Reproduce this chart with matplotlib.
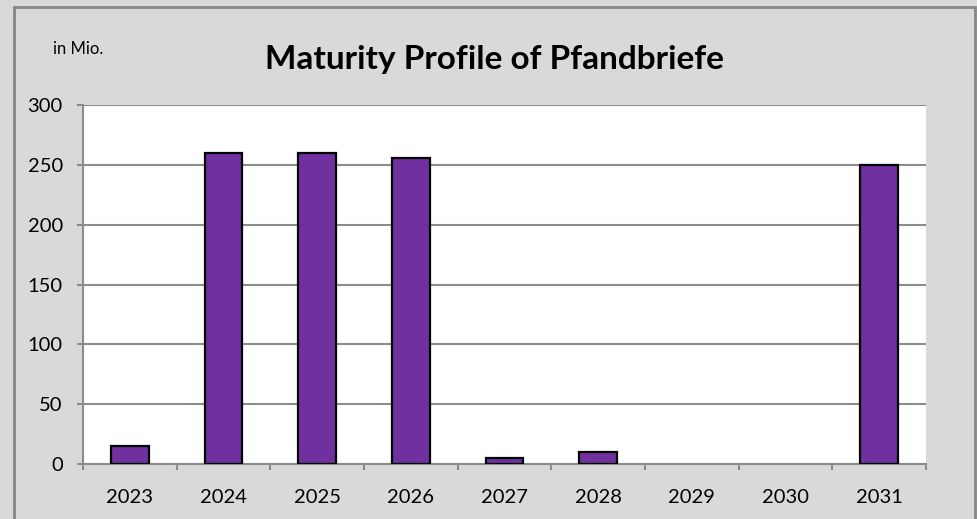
import matplotlib.pyplot as plt
from matplotlib.patches import Rectangle
import numpy as np

years = ['2023', '2024', '2025', '2026', '2027', '2028', '2029', '2030', '2031']
volumes = [15, 260, 260, 256, 5, 10, 0, 0, 250]

plt.rcParams['font.family'] = ['Lato', 'DejaVu Sans']

fig = plt.figure(figsize=(9.78, 5.19), dpi=100)
fig.patch.set_facecolor('#d9d9d9')
fig.patches.append(Rectangle((14 / 978, -0.1), (975 - 14) / 978, 1.1 - 7 / 519,
                             transform=fig.transFigure, fill=False,
                             edgecolor='#868686', linewidth=2))

ax = fig.add_axes([83 / 978, 1 - 464 / 519, (926 - 83) / 978, (464 - 105) / 519])
ax.set_facecolor('white')

x = np.arange(len(years))
# empty years show no bar outline
edges = ['black' if v > 0 else 'none' for v in volumes]
ax.bar(x, volumes, width=0.4, color='#7030a0', edgecolor=edges, linewidth=1.6, zorder=3)

ax.set_xlim(-0.5, len(years) - 0.5)
ax.set_ylim(0, 300)
ax.set_yticks(range(0, 301, 50))
ax.yaxis.grid(True, color='#8c8c8c', linewidth=1.5, zorder=0)

ax.set_xticks(x)
ax.set_xticklabels(years)
ax.set_xticks(np.arange(-0.5, len(years), 1), minor=True)
ax.tick_params(axis='x', which='major', length=0, pad=18, labelsize=14.5)
ax.tick_params(axis='x', which='minor', length=4.5, width=1.5, color='#8c8c8c')
ax.tick_params(axis='y', length=4.5, width=1.5, color='#8c8c8c', labelsize=14.5, pad=10)

for s in ['top', 'right']:
    ax.spines[s].set_visible(False)
for s in ['left', 'bottom']:
    ax.spines[s].set_color('#8c8c8c')
    ax.spines[s].set_linewidth(1.5)

fig.text(494 / 978, 1 - 59 / 519, 'Maturity Profile of Pfandbriefe', ha='center', va='center',
         fontsize=24, fontweight='bold')
fig.text(53 / 978, 1 - 49 / 519, 'in Mio.', ha='left', va='center', fontsize=12)

fig.savefig('out.png', dpi=100, facecolor=fig.get_facecolor())
